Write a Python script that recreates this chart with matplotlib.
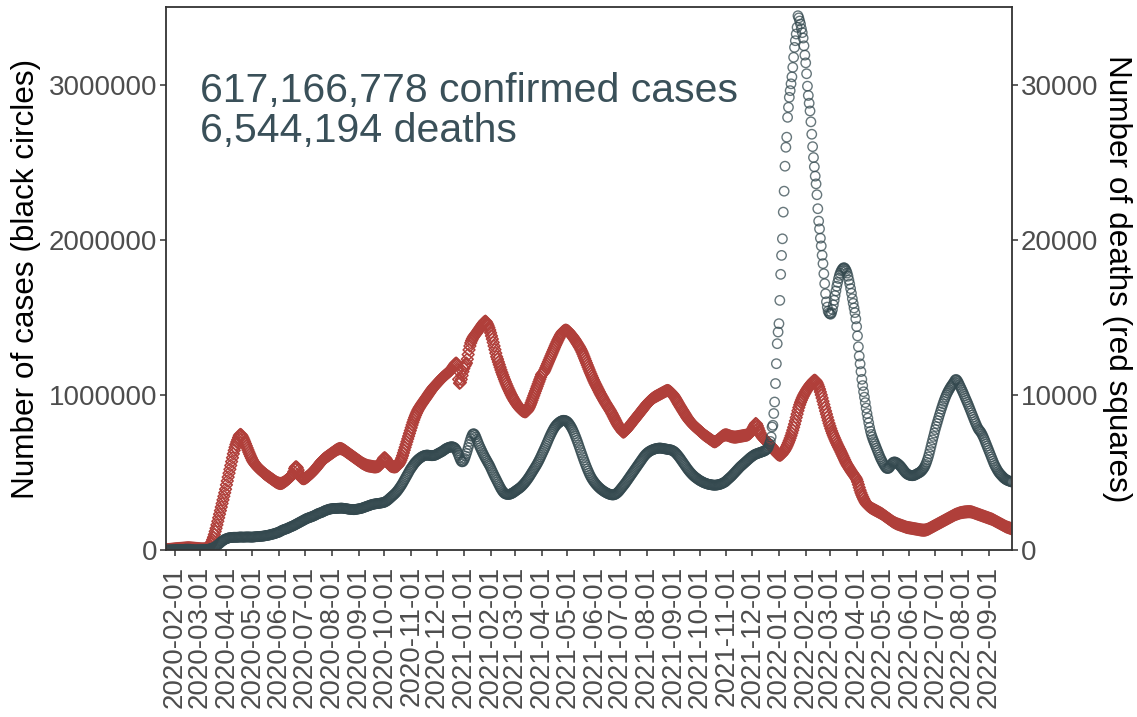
import numpy as np
import pandas as pd
import matplotlib
matplotlib.use("Agg")
import matplotlib.pyplot as plt
import matplotlib.dates as mdates

# =====================================================================
# DATA: global daily new cases (thousands) and deaths, 7-day averages
# one row per month, starting 2020-01-22
# =====================================================================
cases_2020 = [
    0, 0, 0, 0, 0, 1, 1, 1, 1, 2,
    2, 2, 3, 3, 3, 3, 3, 3, 3, 3, 3, 3, 5, 5, 5, 5, 5, 5, 5, 3, 2, 2, 2, 1, 1, 1, 1, 1, 2,
    2, 2, 2, 2, 3, 3, 3, 3, 4, 4, 5, 6, 7, 9, 11, 13, 15, 18, 21, 25, 29, 33, 38, 43, 48, 53, 57, 61, 65, 68, 71,
    73, 75, 77, 79, 80, 80, 81, 81, 82, 82, 82, 82, 82, 82, 83, 83, 84, 84, 83, 83, 83, 83, 84, 84, 84, 84, 84, 84, 83, 83,
    83, 84, 84, 85, 86, 86, 86, 87, 87, 88, 88, 89, 89, 90, 91, 92, 93, 94, 95, 96, 97, 99, 100, 102, 103, 104, 106, 108, 110, 112, 113,
    116, 119, 122, 125, 128, 130, 132, 134, 136, 138, 140, 143, 146, 148, 151, 153, 155, 158, 161, 164, 167, 170, 173, 176, 179, 182, 185, 188, 191, 194,
    197, 200, 203, 205, 207, 209, 211, 213, 215, 217, 220, 222, 225, 228, 231, 234, 236, 238, 240, 242, 244, 247, 250, 253, 255, 257, 259, 261, 263, 264, 265,
    266, 267, 268, 268, 268, 268, 268, 269, 269, 269, 270, 270, 270, 269, 268, 268, 267, 266, 265, 264, 263, 262, 262, 261, 261, 260, 260, 261, 262, 263, 264,
    265, 266, 267, 268, 270, 272, 274, 276, 278, 280, 282, 284, 286, 288, 290, 292, 294, 295, 296, 297, 298, 299, 300, 300, 301, 302, 303, 304, 305, 306,
    308, 311, 314, 318, 322, 327, 332, 337, 342, 347, 352, 357, 362, 368, 374, 381, 388, 396, 404, 412, 421, 430, 440, 450, 460, 470, 480, 490, 500, 510, 520,
    528, 536, 544, 552, 560, 566, 572, 578, 583, 588, 592, 596, 600, 603, 606, 608, 610, 611, 612, 612, 611, 610, 609, 608, 608, 608, 609, 610, 612, 615,
    618, 621, 624, 627, 630, 633, 636, 640, 644, 648, 652, 655, 658, 660, 662, 664, 665, 666, 665, 663, 660, 655, 648, 638, 625, 610, 595, 582, 572, 568, 570,
]
cases_2021 = [
    578, 590, 605, 622, 640, 660, 680, 700, 718, 733, 745, 750, 748, 740, 728, 714, 700, 686, 672, 660, 648, 636, 624, 613, 602, 592, 582, 572, 562, 552, 542,
    530, 518, 506, 494, 482, 471, 460, 449, 438, 427, 416, 405, 395, 386, 378, 371, 366, 362, 360, 359, 358, 358, 359, 361, 363, 366, 369, 373,
    377, 381, 385, 389, 393, 397, 401, 406, 411, 417, 423, 429, 436, 443, 450, 458, 466, 474, 483, 492, 501, 510, 519, 528, 537, 546, 556, 566, 577, 588, 600,
    612, 624, 636, 648, 660, 673, 686, 699, 712, 725, 737, 749, 760, 771, 781, 790, 798, 805, 811, 816, 821, 825, 829, 832, 834, 836, 836, 835, 833, 830,
    826, 820, 813, 805, 796, 786, 775, 763, 750, 736, 722, 707, 692, 676, 660, 644, 628, 612, 596, 580, 565, 550, 536, 522, 509, 496, 484, 473, 463, 454, 446,
    438, 431, 424, 418, 412, 406, 401, 396, 391, 387, 383, 379, 375, 372, 369, 366, 363, 361, 359, 357, 356, 355, 355, 356, 358, 361, 365, 370, 375, 381,
    388, 395, 402, 409, 416, 423, 430, 438, 446, 454, 462, 470, 478, 486, 494, 502, 510, 518, 526, 534, 542, 550, 558, 566, 574, 582, 590, 598, 605, 612, 618,
    623, 628, 632, 636, 639, 642, 645, 647, 649, 651, 653, 654, 655, 656, 657, 657, 657, 656, 655, 654, 653, 652, 651, 650, 649, 648, 647, 646, 645, 643, 640,
    637, 633, 628, 622, 616, 609, 602, 595, 587, 579, 571, 563, 555, 547, 539, 531, 523, 516, 509, 502, 496, 490, 484, 479, 474, 469, 465, 461, 457, 453,
    449, 446, 443, 440, 437, 434, 432, 430, 428, 426, 424, 423, 422, 421, 420, 419, 418, 418, 418, 418, 419, 420, 421, 422, 424, 426, 428, 431, 434, 437, 440,
    446, 451, 456, 461, 466, 471, 476, 482, 488, 494, 500, 506, 512, 518, 524, 530, 536, 541, 546, 551, 556, 561, 566, 571, 576, 581, 586, 591, 596, 600,
    604, 608, 612, 615, 618, 620, 622, 624, 626, 628, 630, 632, 634, 636, 638, 641, 645, 650, 657, 668, 685, 700, 729, 793, 804, 880, 954, 1073, 1201, 1330, 1405,
]
cases_2022 = [
    1459, 1609, 1777, 1899, 2006, 2178, 2313, 2474, 2596, 2661, 2789, 2854, 2918, 2961, 3005, 3050, 3111, 3176, 3240, 3283, 3326, 3369, 3444, 3430, 3410, 3390, 3360, 3335, 3300, 3250, 3190,
    3140, 3070, 2990, 2930, 2880, 2830, 2760, 2680, 2600, 2530, 2470, 2410, 2360, 2290, 2200, 2120, 2070, 2010, 1960, 1900, 1846, 1781, 1717, 1652, 1600, 1566, 1540, 1528,
    1522, 1520, 1530, 1550, 1580, 1610, 1640, 1670, 1700, 1725, 1750, 1770, 1785, 1798, 1808, 1815, 1820, 1818, 1810, 1800, 1785, 1765, 1740, 1715, 1685, 1655, 1620, 1590, 1560, 1530, 1490,
    1440, 1380, 1310, 1250, 1200, 1150, 1100, 1060, 1020, 985, 950, 915, 880, 850, 820, 790, 765, 745, 728, 712, 698, 684, 670, 656, 642, 628, 614, 600, 588, 577,
    566, 556, 546, 538, 530, 526, 525, 527, 532, 540, 550, 558, 564, 567, 568, 566, 563, 559, 555, 550, 545, 539, 532, 525, 517, 510, 503, 497, 492, 488, 485,
    483, 481, 480, 479, 479, 480, 482, 485, 488, 491, 494, 497, 500, 504, 509, 515, 522, 530, 540, 552, 566, 582, 600, 620, 642, 665, 688, 710, 732, 754,
    776, 796, 815, 834, 853, 872, 890, 908, 925, 942, 958, 973, 987, 1000, 1012, 1023, 1033, 1043, 1052, 1060, 1068, 1076, 1085, 1095, 1100, 1096, 1088, 1078, 1066, 1054, 1042,
    1030, 1018, 1005, 992, 979, 966, 953, 940, 926, 912, 898, 884, 870, 856, 842, 828, 815, 802, 790, 780, 772, 766, 758, 748, 737, 725, 712, 698, 684, 670, 656,
    642, 628, 614, 600, 586, 572, 558, 546, 535, 525, 515, 506, 498, 491, 485, 479, 473, 467, 462, 458, 454, 451, 448, 446, 444, 442, 440, 438,
]

deaths_2020 = [
    17, 20, 24, 28, 33, 38, 44, 50, 56, 62,
    68, 74, 80, 85, 90, 94, 98, 102, 106, 110, 115, 120, 125, 130, 135, 140, 142, 140, 135, 130, 125, 120, 115, 110, 105, 100, 95, 90, 85,
    80, 75, 72, 70, 70, 72, 78, 88, 100, 120, 160, 220, 300, 400, 520, 660, 820, 1000, 1200, 1400, 1620, 1850, 2080, 2310, 2540, 2770, 3000, 3230, 3460, 3690, 3920,
    4200, 4450, 4700, 4950, 5200, 5450, 5700, 5950, 6200, 6420, 6620, 6800, 6960, 7100, 7250, 7380, 7450, 7430, 7350, 7250, 7130, 7000, 6860, 6720, 6580, 6440, 6300, 6170, 6040, 5920,
    5800, 5700, 5620, 5540, 5470, 5400, 5340, 5280, 5230, 5180, 5130, 5080, 5030, 4980, 4930, 4880, 4840, 4800, 4760, 4720, 4680, 4640, 4600, 4560, 4520, 4480, 4440, 4400, 4370, 4340, 4320,
    4300, 4290, 4290, 4300, 4320, 4350, 4390, 4430, 4470, 4510, 4560, 4610, 4660, 4710, 4760, 4820, 4900, 5050, 5250, 5350, 5360, 5300, 5150, 4950, 4800, 4700, 4640, 4610, 4600, 4600,
    4620, 4650, 4690, 4730, 4780, 4830, 4880, 4930, 4980, 5040, 5100, 5160, 5220, 5290, 5360, 5430, 5500, 5570, 5640, 5700, 5760, 5820, 5870, 5920, 5960, 6000, 6040, 6080, 6120, 6160, 6200,
    6240, 6280, 6320, 6360, 6400, 6440, 6470, 6500, 6520, 6540, 6540, 6530, 6510, 6480, 6450, 6410, 6370, 6330, 6290, 6250, 6210, 6170, 6130, 6090, 6050, 6010, 5970, 5930, 5890, 5850, 5810,
    5770, 5730, 5690, 5650, 5610, 5580, 5550, 5520, 5490, 5470, 5450, 5430, 5420, 5410, 5400, 5390, 5380, 5370, 5360, 5360, 5360, 5370, 5380, 5400, 5430, 5480, 5560, 5680, 5800, 5900,
    5950, 5920, 5850, 5750, 5650, 5550, 5480, 5430, 5400, 5380, 5370, 5360, 5360, 5370, 5380, 5420, 5480, 5560, 5660, 5780, 5920, 6080, 6260, 6440, 6620, 6800, 6980, 7160, 7340, 7520, 7700,
    7880, 8060, 8230, 8390, 8540, 8680, 8810, 8930, 9040, 9140, 9230, 9320, 9400, 9480, 9560, 9640, 9720, 9800, 9880, 9960, 10040, 10120, 10200, 10280, 10360, 10430, 10500, 10560, 10620, 10680,
    10740, 10800, 10860, 10920, 10980, 11040, 11100, 11150, 11200, 11250, 11300, 11350, 11400, 11450, 11500, 11550, 11600, 11680, 11760, 11840, 11920, 12000, 12050, 12000, 11600, 11000, 10750, 10800, 11000, 11250, 11500,
]
deaths_2021 = [
    11700, 11850, 11950, 12050, 12300, 12600, 12900, 13150, 13350, 13500, 13620, 13720, 13800, 13880, 13950, 14020, 14100, 14180, 14260, 14340, 14420, 14500, 14580, 14650, 14720, 14750, 14700, 14600, 14480, 14340, 14180,
    14000, 13800, 13600, 13380, 13150, 12920, 12690, 12460, 12300, 12120, 11950, 11780, 11610, 11450, 11300, 11150, 11000, 10860, 10720, 10590, 10460, 10340, 10220, 10100, 9990, 9880, 9780, 9680,
    9590, 9500, 9420, 9340, 9260, 9190, 9120, 9060, 9010, 8970, 8940, 8920, 8910, 8920, 8960, 9030, 9120, 9230, 9360, 9500, 9650, 9800, 9950, 10100, 10250, 10400, 10550, 10700, 10850, 11000, 11150,
    11300, 11370, 11420, 11500, 11620, 11750, 11880, 12010, 12140, 12270, 12400, 12530, 12660, 12790, 12920, 13050, 13180, 13300, 13420, 13540, 13650, 13760, 13860, 13950, 14030, 14090, 14130, 14160, 14170, 14160,
    14140, 14100, 14040, 13970, 13900, 13830, 13760, 13690, 13610, 13530, 13440, 13350, 13260, 13170, 13080, 12980, 12870, 12750, 12620, 12480, 12340, 12200, 12060, 11920, 11780, 11640, 11500, 11370, 11240, 11110, 10980,
    10860, 10740, 10630, 10520, 10410, 10300, 10190, 10080, 9980, 9880, 9780, 9680, 9580, 9490, 9400, 9310, 9220, 9130, 9040, 8950, 8850, 8750, 8640, 8530, 8420, 8310, 8200, 8100, 8010, 7930,
    7850, 7770, 7690, 7620, 7600, 7630, 7680, 7740, 7800, 7870, 7940, 8010, 8080, 8150, 8220, 8290, 8360, 8430, 8500, 8570, 8640, 8710, 8780, 8850, 8920, 8990, 9060, 9130, 9200, 9270, 9340,
    9410, 9470, 9530, 9590, 9640, 9690, 9740, 9780, 9820, 9860, 9890, 9920, 9950, 9980, 10010, 10040, 10070, 10100, 10130, 10160, 10190, 10220, 10250, 10270, 10280, 10270, 10240, 10200, 10150, 10090, 10030,
    9960, 9880, 9790, 9700, 9600, 9500, 9400, 9310, 9220, 9130, 9040, 8950, 8860, 8770, 8680, 8590, 8510, 8430, 8360, 8290, 8220, 8160, 8100, 8040, 7990, 7940, 7890, 7840, 7790, 7740,
    7690, 7640, 7590, 7540, 7490, 7440, 7400, 7360, 7320, 7280, 7240, 7200, 7160, 7120, 7080, 7040, 7000, 6980, 6980, 7000, 7040, 7080, 7120, 7170, 7220, 7270, 7320, 7360, 7390, 7410, 7420,
    7420, 7410, 7390, 7370, 7350, 7330, 7310, 7300, 7290, 7280, 7280, 7280, 7290, 7300, 7310, 7320, 7330, 7340, 7350, 7360, 7370, 7380, 7390, 7400, 7410, 7430, 7460, 7500, 7560, 7640,
    7740, 7850, 7960, 8060, 8150, 8120, 8000, 7850, 7700, 7560, 7440, 7340, 7260, 7200, 7140, 7080, 7020, 6960, 6910, 6860, 6810, 6760, 6700, 6640, 6580, 6500, 6420, 6340, 6260, 6200, 6150,
]
deaths_2022 = [
    6130, 6110, 6120, 6160, 6220, 6290, 6370, 6460, 6560, 6670, 6790, 6920, 7060, 7210, 7370, 7540, 7720, 7910, 8110, 8320, 8540, 8760, 8980, 9180, 9360, 9520, 9660, 9790, 9910, 10020, 10120,
    10220, 10310, 10400, 10480, 10560, 10640, 10710, 10780, 10840, 10900, 10940, 10930, 10880, 10790, 10670, 10530, 10370, 10190, 10000, 9800, 9590, 9380, 9170, 8960, 8760, 8560, 8360, 8170,
    8000, 7830, 7670, 7520, 7380, 7250, 7120, 6990, 6870, 6750, 6640, 6530, 6420, 6300, 6180, 6060, 5940, 5820, 5700, 5590, 5490, 5400, 5310, 5220, 5130, 5050, 4970, 4890, 4810, 4730, 4650,
    4550, 4400, 4220, 4030, 3850, 3690, 3550, 3420, 3300, 3190, 3090, 3000, 2930, 2870, 2820, 2780, 2740, 2700, 2670, 2640, 2610, 2580, 2550, 2520, 2490, 2460, 2430, 2400, 2370, 2340,
    2300, 2260, 2220, 2180, 2140, 2100, 2060, 2020, 1980, 1940, 1900, 1860, 1820, 1790, 1760, 1730, 1700, 1680, 1660, 1640, 1620, 1600, 1580, 1560, 1540, 1520, 1500, 1480, 1460, 1450, 1440,
    1430, 1420, 1410, 1400, 1390, 1380, 1370, 1360, 1350, 1340, 1330, 1320, 1310, 1300, 1290, 1285, 1280, 1280, 1285, 1295, 1310, 1330, 1350, 1380, 1410, 1440, 1470, 1500, 1530, 1560,
    1590, 1620, 1650, 1680, 1710, 1740, 1770, 1800, 1830, 1860, 1890, 1920, 1950, 1980, 2010, 2040, 2070, 2100, 2130, 2160, 2190, 2220, 2250, 2280, 2300, 2320, 2340, 2360, 2380, 2400, 2410,
    2420, 2430, 2440, 2450, 2455, 2460, 2465, 2470, 2470, 2470, 2465, 2455, 2440, 2420, 2400, 2380, 2360, 2340, 2320, 2300, 2280, 2260, 2240, 2220, 2200, 2180, 2160, 2140, 2120, 2100, 2080,
    2060, 2040, 2020, 2000, 1980, 1950, 1920, 1890, 1860, 1830, 1800, 1770, 1740, 1710, 1680, 1650, 1620, 1590, 1560, 1530, 1500, 1480, 1460, 1440, 1420, 1400, 1380, 1360,
]

START_DATE = "2020-01-22"
END_DATE = "2022-09-28"
TOTAL_CASES = "617,166,778"
TOTAL_DEATHS = "6,544,194"

CASE_COL = "#34494F"
DEATH_COL = "#B03F3A"
TEXT_COL = "#3A5059"

plt.rcParams["font.family"] = ["Liberation Sans", "DejaVu Sans"]

cases = np.array(cases_2020 + cases_2021 + cases_2022, dtype=float) * 1000
deaths = np.array(deaths_2020 + deaths_2021 + deaths_2022, dtype=float)
case_dates = pd.date_range(START_DATE, periods=len(cases), freq="D")
death_dates = pd.date_range(START_DATE, periods=len(deaths), freq="D")

# =====================================================================
# PLOT
# =====================================================================
fig = plt.figure(figsize=(11.37, 7.17), dpi=100)
ax = fig.add_axes([0.146, 0.2329, 0.7441, 0.7573])
ax2 = ax.twinx()

ax2.scatter(death_dates, deaths, marker="D", s=36, facecolors="none",
            edgecolors=DEATH_COL, linewidths=1.1)
ax.scatter(case_dates, cases, marker="o", s=46, facecolors="none",
           edgecolors=CASE_COL, linewidths=1.0, alpha=0.75)

# cases on top of deaths
ax.set_zorder(ax2.get_zorder() + 1)
ax.patch.set_visible(False)

ax.set_xlim(pd.Timestamp(START_DATE), pd.Timestamp(END_DATE))
ax.set_ylim(0, 3500000)
ax2.set_ylim(0, 35000)

ax.set_yticks([0, 1000000, 2000000, 3000000])
ax.set_yticklabels(["0", "1000000", "2000000", "3000000"])
ax2.set_yticks([0, 10000, 20000, 30000])
ax2.set_yticklabels(["0", "10000", "20000", "30000"])

ax.xaxis.set_major_locator(mdates.MonthLocator(bymonthday=1))
ax.xaxis.set_major_formatter(mdates.DateFormatter("%Y-%m-%d"))
for lab in ax.get_xticklabels():
    lab.set_rotation(90)

for a in (ax, ax2):
    a.tick_params(length=4.3, width=1.1, color="#333333",
                  labelcolor="#4D4D4D", labelsize=20, pad=2.2)
ax.tick_params(axis="x", pad=7)

for sp in ax.spines.values():
    sp.set_color("#333333")
    sp.set_linewidth(1.3)
for sp in ax2.spines.values():
    sp.set_visible(False)

ax.set_ylabel("Number of cases (black circles)", fontsize=22.7, color="black")
ax.yaxis.set_label_coords(-0.148, 0.5)
ax2.set_ylabel("Number of deaths (red squares)", fontsize=22.7, color="black",
               rotation=270, va="bottom")
ax2.yaxis.set_label_coords(1.106, 0.5)

ax.text(pd.Timestamp("2020-03-01"), 2830000,
        f"{TOTAL_CASES} confirmed cases\n{TOTAL_DEATHS} deaths",
        fontsize=29.5, color=TEXT_COL, ha="left", va="center", linespacing=1.05)

fig.savefig("out.png", dpi=100)
